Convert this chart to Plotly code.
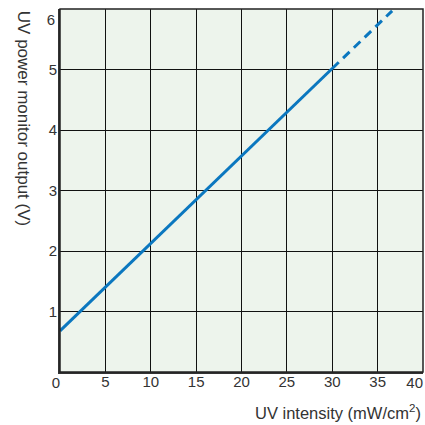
import plotly.graph_objects as go

# Measured segment (solid) and extrapolated segment (dashed)
x_solid = [0, 30.0]
y_solid = [0.68, 5.016]
x_dash = [30.0, 36.6]
y_dash = [5.016, 5.97]

x_ticks_inner = [5, 10, 15, 20, 25, 30, 35]
x_ticks_edge = [0, 40]
y_ticks_inner = [1, 2, 3, 4, 5]
y_ticks_edge = [6]

line_color = "#0b77bf"
tick_font = dict(family="Liberation Sans, Arial, sans-serif", size=15, color="#333333")
xtitle_font = dict(family="Liberation Sans, Arial, sans-serif", size=16.5, color="#333333")
ytitle_font = dict(family="Liberation Sans, Arial, sans-serif", size=17, color="#333333")

fig = go.Figure()
fig.add_trace(go.Scatter(x=x_solid, y=y_solid, mode="lines",
                         line=dict(color=line_color, width=3), showlegend=False))
fig.add_trace(go.Scatter(x=x_dash, y=y_dash, mode="lines",
                         line=dict(color=line_color, width=3, dash="9px,6px"), showlegend=False))

axis_common = dict(showgrid=True, gridcolor="#111111", gridwidth=1, zeroline=False,
                   ticks="", ticklen=0, fixedrange=True, tickfont=tick_font)

fig.update_layout(
    width=425, height=425,
    margin=dict(l=60, r=2, t=9, b=53),
    paper_bgcolor="white",
    plot_bgcolor="#edf4ec",
    font=tick_font,
    xaxis=dict(range=[0, 40], tickvals=x_ticks_inner, showline=True, linecolor="#333333",
               linewidth=2, ticklabelstandoff=-5, **axis_common),
    xaxis2=dict(range=[0, 40], tickvals=x_ticks_edge, overlaying="x", anchor="y", side="bottom",
                ticklabelposition="outside left", showline=False,
                **{**axis_common, "showgrid": False}),
    yaxis=dict(range=[0, 6], tickvals=y_ticks_inner, showline=True, linecolor="#333333",
               linewidth=2, ticklabelstandoff=-2, **axis_common),
    yaxis2=dict(range=[0, 6], tickvals=y_ticks_edge, overlaying="y", anchor="x", side="left",
                ticklabelposition="outside bottom", showline=False, ticklabelstandoff=4,
                **{**axis_common, "showgrid": False}),
    annotations=[
        dict(text="UV intensity (mW/cm<sup>2</sup>)", xref="paper", yref="paper",
             x=1.0, y=-0.077, xanchor="right", yanchor="top", showarrow=False,
             font=xtitle_font),
        dict(text="UV power monitor output (V)", xref="paper", yref="paper",
             x=-0.1, y=1.0, xanchor="center", yanchor="top", textangle=90,
             showarrow=False, font=ytitle_font),
    ],
    shapes=[
        dict(type="rect", xref="paper", yref="paper", x0=0, x1=1, y0=0, y1=1,
             line=dict(color="#222222", width=1.5), layer="above"),
    ],
)

# invisible traces to activate the overlay axes
fig.add_trace(go.Scatter(x=x_ticks_edge, y=[None, None], xaxis="x2", yaxis="y",
                         mode="markers", showlegend=False, hoverinfo="skip"))
fig.add_trace(go.Scatter(x=[None], y=y_ticks_edge, xaxis="x", yaxis="y2",
                         mode="markers", showlegend=False, hoverinfo="skip"))

fig.write_html("out.html", config={"displayModeBar": False},
               post_script="document.body.style.margin='0';document.body.style.padding='0';")
